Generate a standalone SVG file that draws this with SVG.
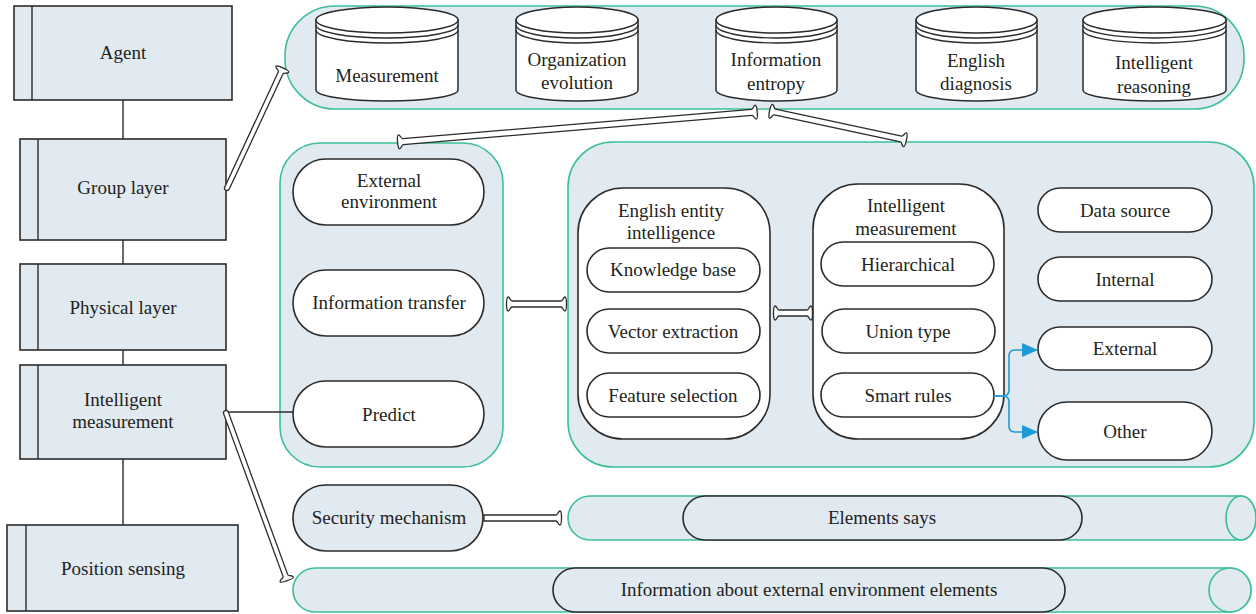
<svg xmlns="http://www.w3.org/2000/svg" width="1256" height="614" viewBox="0 0 1256 614">
<defs>
<style>
.bx{fill:#e1e9f1;stroke:#2b2b2b;stroke-width:1.6}
.ct{fill:#e1e9f1;stroke:#3cbf9a;stroke-width:1.6}
.wp{fill:#ffffff;stroke:#2b2b2b;stroke-width:1.6}
.cy{fill:#ffffff;stroke:#2b2b2b;stroke-width:1.5}
.ln{fill:none;stroke:#2b2b2b;stroke-width:1.4}
.pp{fill:#ffffff;stroke:#2b2b2b;stroke-width:1.3}
.bl{fill:none;stroke:#1e9ad6;stroke-width:1.6}
text{font-family:"Liberation Serif","Times New Roman",serif;font-size:19px;fill:#231f20;text-anchor:middle}
</style>
<marker id="ah" markerUnits="userSpaceOnUse" markerWidth="16" markerHeight="14" refX="16" refY="7" orient="auto">
<path d="M0,0 L16,7 L0,14 Z" fill="#1e9ad6"/>
</marker>
</defs>
<rect width="1256" height="614" fill="#ffffff"/>

<!-- left column -->
<g id="agent"><rect class="bx" x="14" y="6" width="218" height="94"/><path class="ln" d="M32,6 V100"/><text x="123" y="59">Agent</text></g>
<g id="group-layer"><rect class="bx" x="20" y="139" width="206" height="101"/><path class="ln" d="M38,139 V240"/><text x="123" y="194">Group layer</text></g>
<g id="physical-layer"><rect class="bx" x="20" y="264" width="206" height="86"/><path class="ln" d="M38,264 V350"/><text x="123" y="314">Physical layer</text></g>
<g id="intelligent-measurement"><rect class="bx" x="20" y="365" width="206" height="94"/><path class="ln" d="M38,365 V459"/><text x="123" y="406">Intelligent</text><text x="123" y="428">measurement</text></g>
<g id="position-sensing"><rect class="bx" x="7" y="525" width="231" height="86"/><path class="ln" d="M26,525 V611"/><text x="123" y="575">Position sensing</text></g>

<!-- top container -->
<g id="top-container"><rect class="ct" x="285" y="6" width="959" height="103" rx="50" ry="50"/></g>
<g id="cyl-measurement">
<path class="cy" d="M316,20 V90 A71,11 0 0 0 458,90 V20 Z"/><ellipse class="cy" cx="387" cy="20" rx="71" ry="13"/>
<path class="ln" d="M316,25 A71,13 0 0 0 458,25 M316,30 A71,13 0 0 0 458,30"/>
<text x="387" y="82">Measurement</text></g>
<g id="cyl-organization">
<path class="cy" d="M516,20 V90 A61,11 0 0 0 638,90 V20 Z"/><ellipse class="cy" cx="577" cy="20" rx="61" ry="13"/>
<path class="ln" d="M516,25 A61,13 0 0 0 638,25 M516,30 A61,13 0 0 0 638,30"/>
<text x="577" y="66">Organization</text><text x="577" y="89">evolution</text></g>
<g id="cyl-entropy">
<path class="cy" d="M716,20 V90 A60.5,11 0 0 0 837,90 V20 Z"/><ellipse class="cy" cx="776.5" cy="20" rx="60.5" ry="13"/>
<path class="ln" d="M716,25 A60.5,13 0 0 0 837,25 M716,30 A60.5,13 0 0 0 837,30"/>
<text x="776" y="66">Information</text><text x="776" y="90">entropy</text></g>
<g id="cyl-diagnosis">
<path class="cy" d="M916,20 V90 A60.5,11 0 0 0 1037,90 V20 Z"/><ellipse class="cy" cx="976.5" cy="20" rx="60.5" ry="13"/>
<path class="ln" d="M916,25 A60.5,13 0 0 0 1037,25 M916,30 A60.5,13 0 0 0 1037,30"/>
<text x="976" y="67">English</text><text x="976" y="90">diagnosis</text></g>
<g id="cyl-reasoning">
<path class="cy" d="M1083,20 V90 A71.5,11 0 0 0 1226,90 V20 Z"/><ellipse class="cy" cx="1154.5" cy="20" rx="71.5" ry="13"/>
<path class="ln" d="M1083,25 A71.5,13 0 0 0 1226,25 M1083,30 A71.5,13 0 0 0 1226,30"/>
<text x="1154" y="69">Intelligent</text><text x="1154" y="93">reasoning</text></g>

<!-- left container -->
<g id="left-container"><rect class="ct" x="280" y="143" width="223" height="324" rx="40" ry="40"/></g>
<g id="external-environment"><rect class="wp" x="293" y="159" width="191" height="66" rx="33"/><text x="389" y="187">External</text><text x="389" y="208">environment</text></g>
<g id="information-transfer"><rect class="wp" x="293" y="270" width="191" height="66" rx="33"/><text x="389" y="309">Information transfer</text></g>
<g id="predict"><rect class="wp" x="293" y="381" width="191" height="66" rx="33"/><text x="389" y="421">Predict</text></g>

<!-- right container -->
<g id="right-container"><rect class="ct" x="568" y="142" width="686" height="325" rx="45" ry="45"/></g>
<g id="english-entity-intelligence"><rect class="wp" x="578" y="188" width="192" height="251" rx="45" ry="45"/><text x="671" y="217">English entity</text><text x="671" y="239">intelligence</text></g>
<g id="knowledge-base"><rect class="wp" x="587" y="248" width="173" height="44" rx="22"/><text x="673" y="276">Knowledge base</text></g>
<g id="vector-extraction"><rect class="wp" x="587" y="309" width="173" height="44" rx="22"/><text x="673" y="338">Vector extraction</text></g>
<g id="feature-selection"><rect class="wp" x="587" y="373" width="173" height="44" rx="22"/><text x="673" y="402">Feature selection</text></g>
<g id="intelligent-measurement-2"><rect class="wp" x="813" y="184" width="191" height="255" rx="45" ry="45"/><text x="906" y="212">Intelligent</text><text x="906" y="235">measurement</text></g>
<g id="hierarchical"><rect class="wp" x="821" y="242" width="173" height="44" rx="22"/><text x="908" y="271">Hierarchical</text></g>
<g id="union-type"><rect class="wp" x="822" y="309" width="173" height="44" rx="22"/><text x="908" y="338">Union type</text></g>
<g id="smart-rules"><rect class="wp" x="821" y="373" width="173" height="44" rx="22"/><text x="908" y="402">Smart rules</text></g>
<g id="data-source"><rect class="wp" x="1038" y="188" width="174" height="44" rx="22"/><text x="1125" y="217">Data source</text></g>
<g id="internal"><rect class="wp" x="1038" y="257" width="174" height="44" rx="22"/><text x="1125" y="286">Internal</text></g>
<g id="external"><rect class="wp" x="1038" y="327" width="174" height="43" rx="21.5"/><text x="1125" y="355">External</text></g>
<g id="other"><rect class="wp" x="1038" y="402" width="174" height="58" rx="29"/><text x="1125" y="438">Other</text></g>

<!-- bottom -->
<g id="security-mechanism"><rect class="bx" x="293" y="485" width="190" height="66" rx="33"/><text x="389" y="524">Security mechanism</text></g>
<g id="elements-band">
<path class="ct" d="M590,496 H1241 A15,22 0 0 1 1241,540 H590 A22,22 0 0 1 590,496 Z"/>
<ellipse class="ct" cx="1241" cy="518" rx="15" ry="22"/>
<rect class="bx" x="683" y="496" width="399" height="44" rx="22"/>
<text x="882" y="524">Elements says</text></g>
<g id="info-band">
<path class="ct" d="M315,568 H1230 A21,22 0 0 1 1230,612 H315 A22,22 0 0 1 315,568 Z"/>
<ellipse class="ct" cx="1230" cy="590" rx="21" ry="22"/>
<rect class="bx" x="553" y="568" width="512" height="44" rx="22"/>
<text x="809" y="596">Information about external environment elements</text></g>

<!-- connectors -->
<g id="connectors">
<path class="ln" d="M123,100 V139 M123,240 V264 M123,350 V365 M123,459 V525 M226,412 H293"/>
<path class="pp" transform="translate(227,188) rotate(-65)" d="M0,-2.5 H127 C129,-2.5 129,-7 131,-7 C133,-7 133,7 131,7 C129,7 129,2.5 127,2.5 H0 A2.5,2.5 0 0 1 0,-2.5 Z"/>
<path class="pp" transform="translate(398,142) rotate(-4.78)" d="M5,-3 H355 C357,-3 357,-7 359,-7 C361,-7 361,7 359,7 C357,7 357,3 355,3 H5 C3,3 3,7 1,7 C-1,7 -1,-7 1,-7 C3,-7 3,-3 5,-3 Z"/>
<path class="pp" transform="translate(770,111) rotate(12.04)" d="M5,-3 H134 C136,-3 136,-7 138,-7 C140,-7 140,7 138,7 C136,7 136,3 134,3 H5 C3,3 3,7 1,7 C-1,7 -1,-7 1,-7 C3,-7 3,-3 5,-3 Z"/>
<path class="pp" transform="translate(507,304)" d="M5,-3 H54 C56,-3 56,-7 58,-7 C60,-7 60,7 58,7 C56,7 56,3 54,3 H5 C3,3 3,7 1,7 C-1,7 -1,-7 1,-7 C3,-7 3,-3 5,-3 Z"/>
<path class="pp" transform="translate(774,313)" d="M5,-3 H33 C35,-3 35,-7 37,-7 C39,-7 39,7 37,7 C35,7 35,3 33,3 H5 C3,3 3,7 1,7 C-1,7 -1,-7 1,-7 C3,-7 3,-3 5,-3 Z"/>
<path class="pp" transform="translate(484,518)" d="M0,-3 H72 C74,-3 74,-7 76,-7 C78,-7 78,7 76,7 C74,7 74,3 72,3 H0 Z"/>
<path class="pp" transform="translate(226,413) rotate(69.93)" d="M0,-2.5 H173 C175,-2.5 175,-7 177,-7 C179,-7 179,7 177,7 C175,7 175,2.5 173,2.5 H0 A2.5,2.5 0 0 1 0,-2.5 Z"/>
<path class="bl" marker-end="url(#ah)" d="M994,396 H1003 Q1009,396 1009,390 V356 Q1009,350 1015,350 H1038"/>
<path class="bl" marker-end="url(#ah)" d="M994,396 H1003 Q1009,396 1009,402 V426 Q1009,432 1015,432 H1038"/>
</g>
</svg>
